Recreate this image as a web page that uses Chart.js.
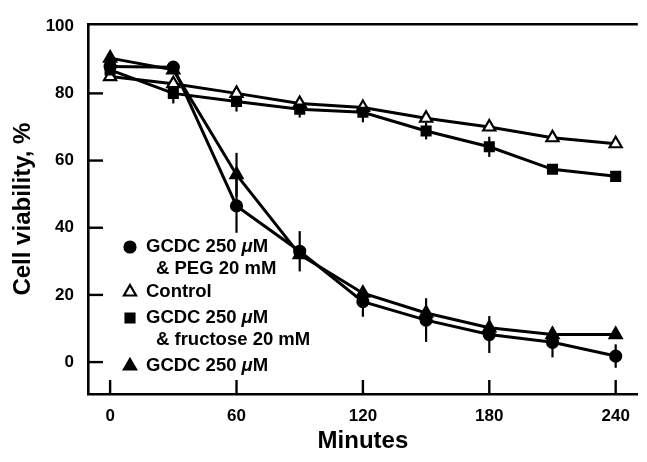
<!DOCTYPE html>
<html>
<head>
<meta charset="utf-8">
<script src="https://cdn.jsdelivr.net/npm/chart.js@4.4.0/dist/chart.umd.min.js"></script>
<style>
  html, body { margin: 0; padding: 0; background: #fff; }
  #wrap { width: 647px; height: 462px; position: relative; }
</style>
</head>
<body>
<div id="wrap"><canvas id="chart"></canvas></div>
<script>
const minutes = [0, 30, 60, 90, 120, 150, 180, 210, 240];

const pegValues = [88, 87.8, 46.5, 33, 18, 12.5, 8.2, 5.9, 1.8];
const pegErrors = [0, 0, 8, 6, 4.5, 6.5, 5.5, 4.5, 3.5];

const controlValues = [85, 82.9, 80, 77, 75.8, 72.6, 70, 66.8, 65];
const controlErrors = [0, 0, 0, 0, 0, 0, 0, 0, 0];

const fructoseValues = [87, 80, 77.6, 75.3, 74.4, 68.8, 64.1, 57.4, 55.3];
const fructoseErrors = [0, 3, 3, 2.5, 3, 2.5, 3, 0, 0];

const gcdcValues = [90.5, 87, 55.8, 32, 20.5, 14.6, 10.2, 8.2, 8.2];
const gcdcErrors = [0, 0, 6.5, 0, 0, 0, 0, 0, 0];

const xTicks = [0, 60, 120, 180, 240];
const yTicks = [0, 20, 40, 60, 80, 100];

const FONT = "'Liberation Sans', Arial, Helvetica, sans-serif";

function points(values) {
  return minutes.map((m, i) => ({ x: m, y: values[i] }));
}

function series(label, values, errors, style, fill) {
  return {
    label: label,
    data: points(values),
    errors: errors,
    borderColor: '#000',
    borderWidth: 3,
    pointStyle: style.shape,
    pointRadius: style.radius,
    pointBorderWidth: 2.2,
    pointBackgroundColor: fill,
    pointBorderColor: '#000',
    tension: 0,
    fill: false
  };
}

const shapes = {
  circle: { shape: 'circle', radius: 5.5 },
  triangle: { shape: 'triangle', radius: 7 },
  square: { shape: 'rect', radius: 6.3 }
};

// vertical error bars without caps, plus the top border and inward ticks
const extras = {
  id: 'extras',
  beforeDatasetsDraw(chart) {
    const ctx = chart.ctx;
    const xs = chart.scales.x, ys = chart.scales.y;
    ctx.save();
    ctx.strokeStyle = '#000';
    ctx.lineWidth = 2.2;
    chart.data.datasets.forEach(ds => {
      ds.data.forEach((p, i) => {
        const e = ds.errors[i];
        if (!e) return;
        const px = xs.getPixelForValue(p.x);
        ctx.beginPath();
        ctx.moveTo(px, ys.getPixelForValue(p.y - e));
        ctx.lineTo(px, ys.getPixelForValue(p.y + e));
        ctx.stroke();
      });
    });
    ctx.restore();
  },
  afterDraw(chart) {
    const ctx = chart.ctx;
    const a = chart.chartArea;
    const xs = chart.scales.x, ys = chart.scales.y;
    ctx.save();
    ctx.strokeStyle = '#000';
    ctx.lineWidth = 2.6;
    ctx.beginPath();
    ctx.moveTo(a.left - 1, a.top);
    ctx.lineTo(a.right, a.top);
    ctx.stroke();
    ctx.lineWidth = 2.4;
    yTicks.forEach(v => {
      if (v === 100) return;
      const py = ys.getPixelForValue(v);
      ctx.beginPath();
      ctx.moveTo(a.left, py);
      ctx.lineTo(a.left + 15, py);
      ctx.stroke();
    });
    xTicks.forEach(v => {
      const px = xs.getPixelForValue(v);
      ctx.beginPath();
      ctx.moveTo(px, a.bottom);
      ctx.lineTo(px, a.bottom - 14);
      ctx.stroke();
    });

    // legend inside the plot
    const legend = [
      { style: shapes.circle, fill: '#000', lines: [['GCDC 250 ', 'μ', 'M'], ['& PEG 20 mM']], y: 247 },
      { style: shapes.triangle, fill: '#fff', lines: [['Control']], y: 292 },
      { style: shapes.square, fill: '#000', lines: [['GCDC 250 ', 'μ', 'M'], ['& fructose 20 mM']], y: 318 },
      { style: shapes.triangle, fill: '#000', lines: [['GCDC 250 ', 'μ', 'M']], y: 366 }
    ];
    ctx.textBaseline = 'middle';
    ctx.fillStyle = '#000';
    legend.forEach(item => {
      ctx.fillStyle = item.fill;
      ctx.strokeStyle = '#000';
      ctx.lineWidth = 2.2;
      Chart.helpers.drawPoint(ctx, {
        pointStyle: item.style.shape,
        radius: item.style.radius,
        rotation: 0,
        borderWidth: 2.2
      }, 130, item.y);
      ctx.fillStyle = '#000';
      item.lines.forEach((parts, li) => {
        let x = li === 0 ? 146 : 156;
        const y = item.y + li * 22;
        parts.forEach((t, k) => {
          ctx.font = (k === 1 ? 'italic bold ' : 'bold ') + '18.5px ' + FONT;
          ctx.fillText(t, x, y);
          x += ctx.measureText(t).width;
        });
      });
    });
    ctx.restore();
  }
};

new Chart(document.getElementById('chart'), {
  type: 'line',
  data: {
    datasets: [
      series('GCDC 250 μM & PEG 20 mM', pegValues, pegErrors, shapes.circle, '#000'),
      series('GCDC 250 μM & fructose 20 mM', fructoseValues, fructoseErrors, shapes.square, '#000'),
      series('GCDC 250 μM', gcdcValues, gcdcErrors, shapes.triangle, '#000'),
      series('Control', controlValues, controlErrors, shapes.triangle, '#fff')
    ]
  },
  options: {
    responsive: true,
    maintainAspectRatio: false,
    animation: false,
    layout: { padding: { top: 20, right: 0, left: 0, bottom: 0 } },
    plugins: { legend: { display: false }, tooltip: { enabled: false } },
    scales: {
      x: {
        type: 'linear',
        min: -10.5,
        max: 250.5,
        afterBuildTicks: s => { s.ticks = xTicks.map(v => ({ value: v })); },
        afterFit: s => { s.height = 68; },
        grid: { display: false, drawTicks: false },
        border: { display: true, color: '#000', width: 2.6 },
        ticks: { color: '#000', padding: 12, font: { family: FONT, size: 17, weight: 'bold' } },
        title: { display: true, text: 'Minutes', color: '#000', padding: { top: 0, bottom: 6 }, font: { family: FONT, size: 24, weight: 'bold' } }
      },
      y: {
        min: -9.5,
        max: 100.6,
        afterBuildTicks: s => { s.ticks = yTicks.map(v => ({ value: v })); },
        afterFit: s => { s.width = 88; },
        grid: { display: false, drawTicks: false },
        border: { display: true, color: '#000', width: 2.6 },
        ticks: { color: '#000', padding: 14, font: { family: FONT, size: 17, weight: 'bold' } },
        title: { display: true, text: 'Cell viability, %', color: '#000', padding: { top: 9, bottom: 0 }, font: { family: FONT, size: 24, weight: 'bold' } }
      }
    }
  },
  plugins: [extras]
});
</script>
</body>
</html>
